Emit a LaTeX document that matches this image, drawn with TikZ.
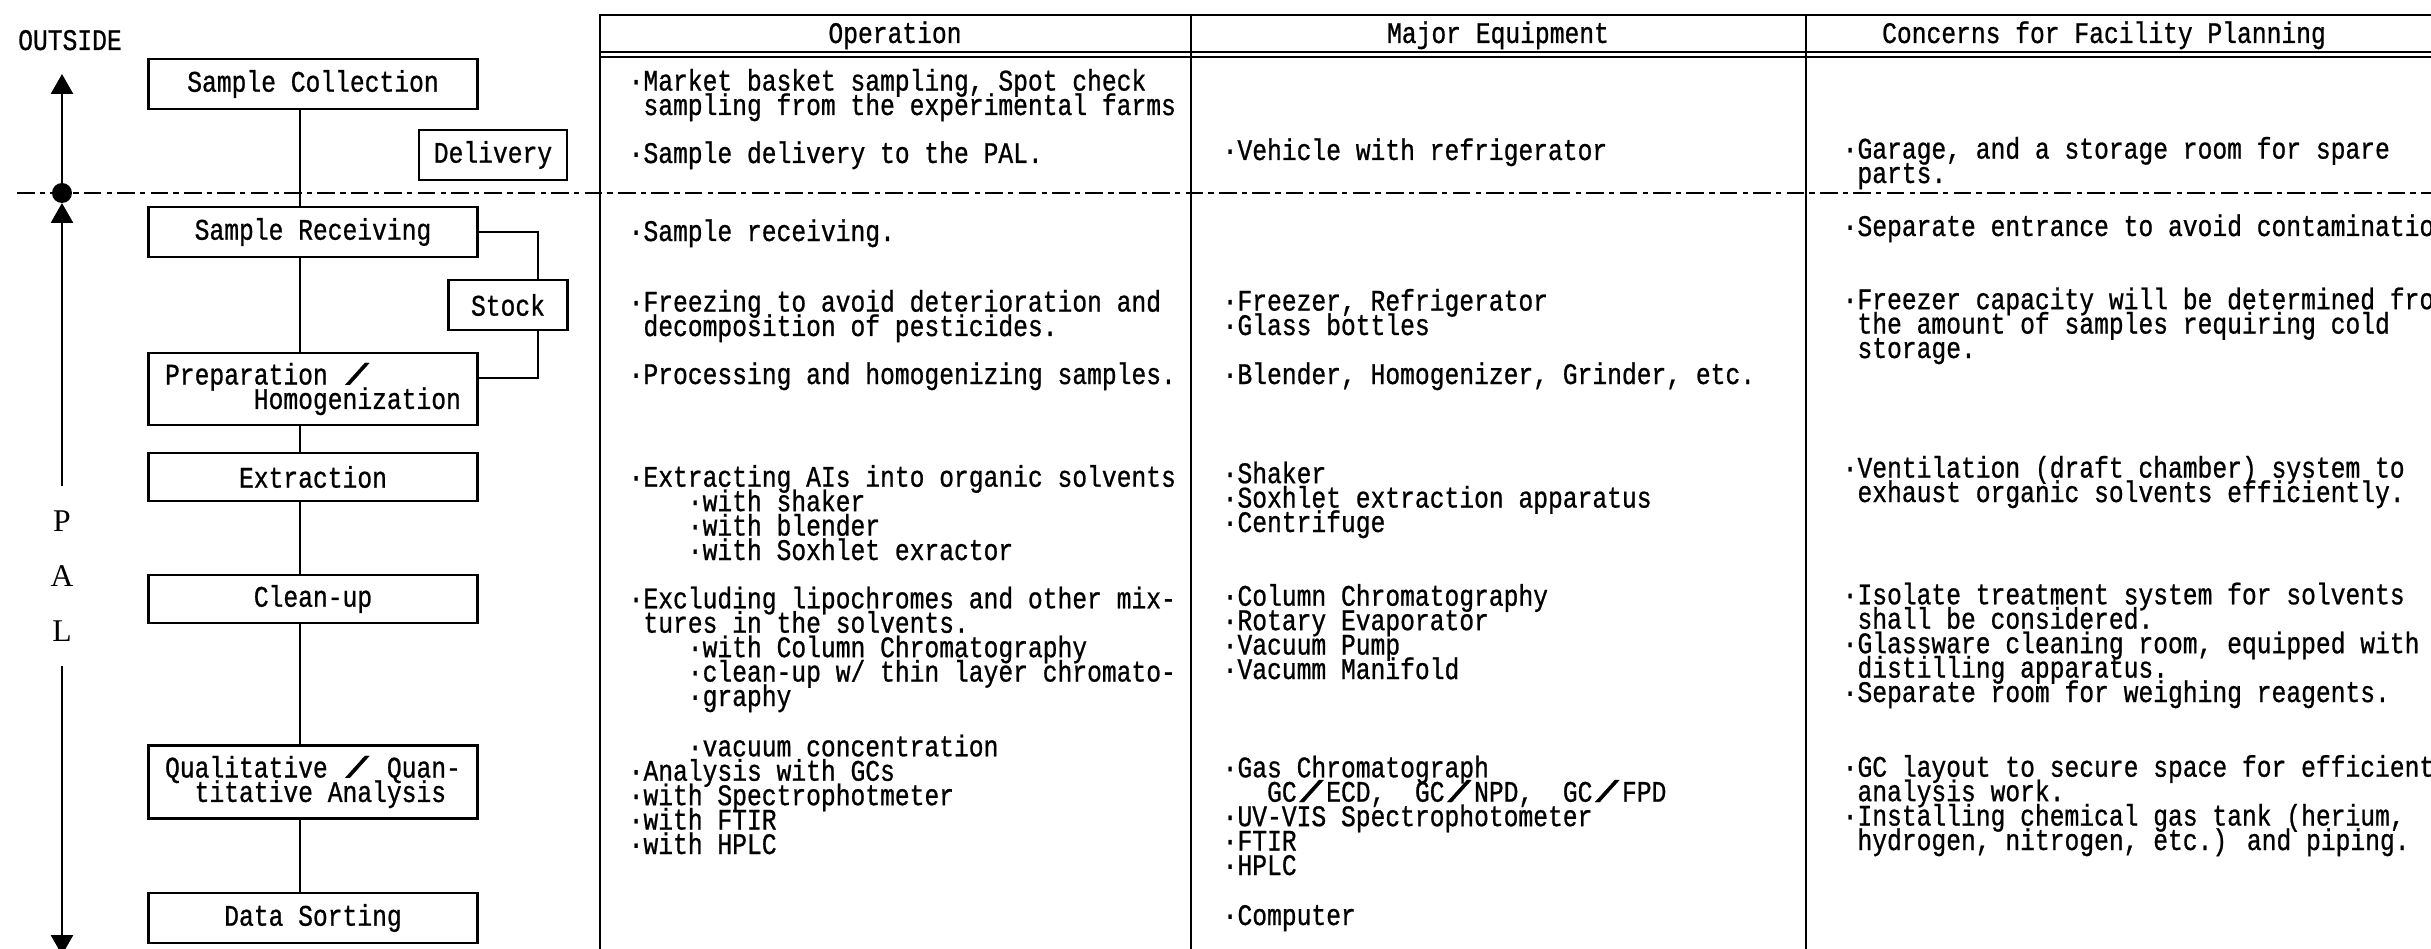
\documentclass[tikz,border=0pt]{standalone}
\usepackage{fontspec}
\setmainfont{Liberation Serif}
\newfontfamily\jfont[FakeStretch=0.825,FakeBold=0.8]{Liberation Mono}
\usetikzlibrary{arrows.meta}

\newcommand{\jtext}{\jfont\fontsize{8.5pt}{6.95pt}\selectfont\lineskiplimit=-\maxdimen}
\newlength\cw
\newcommand{\wsl}{\settowidth\cw{00}\makebox[\cw]{\scalebox{2}[1]{/}}}

\tikzset{
  stepbox/.style={draw, line width=0.6pt, minimum width=32.9mm,
    minimum height=5mm, inner sep=0pt, align=left, font=\jtext},
  cell/.style={anchor=base west, align=left, inner sep=0pt, font=\jtext},
  rule/.style={line width=0.6pt},
  flow/.style={line width=0.8pt},
  bigtip/.style={-{Triangle[length=2mm,width=2.2mm]}}
}

\begin{document}
\begin{tikzpicture}[x=0.1mm,y=-0.1mm]

\useasboundingbox (0,0) rectangle (2431,949);
\clip (0,0) rectangle (2431,949);

%%%%%%%%%%%%%%%%%%%%%%%%%%%%%%%%%%%%%%%%%%%%%%%%%%
% Table
%%%%%%%%%%%%%%%%%%%%%%%%%%%%%%%%%%%%%%%%%%%%%%%%%%

% Frame
\draw[rule] (600,960) -- (600,15) -- (2460,15);
\draw[rule] (600,52) -- (2460,52);
\draw[rule] (600,57) -- (2460,57);
\draw[rule] (1191,15) -- (1191,960);
\draw[rule] (1806,15) -- (1806,960);

% Heads
\node[font=\jtext, anchor=base] (hop) at (895,43) {Operation};
\node[font=\jtext, anchor=base] (heq) at (1498,43) {Major Equipment};
\node[font=\jtext, anchor=base] (hcn) at (2104,43) {Concerns for Facility Planning};

% Boundary
\draw[line width=0.4pt, dash pattern=on 5pt off 1.5pt on 1.5pt off 1.5pt]
(17,193) -- (2431,193);

% Operation (base = last line)
\node[cell] (op1) at (628,115)
{·Market basket sampling, Spot check\\
\hphantom{0}sampling from the experimental farms};
\node[cell] (op2) at (628,163) {·Sample delivery to the PAL.};
\node[cell] (op3) at (628,241) {·Sample receiving.};
\node[cell] (op4) at (628,336)
{·Freezing to avoid deterioration and\\
\hphantom{0}decomposition of pesticides.};
\node[cell] (op5) at (628,384) {·Processing and homogenizing samples.};
\node[cell] (op6) at (628,560)
{·Extracting AIs into organic solvents\\
\hphantom{0000}·with shaker\\
\hphantom{0000}·with blender\\
\hphantom{0000}·with Soxhlet exractor};
\node[cell] (op7) at (628,706)
{·Excluding lipochromes and other mix-\\
\hphantom{0}tures in the solvents.\\
\hphantom{0000}·with Column Chromatography\\
\hphantom{0000}·clean-up w/ thin layer chromato-\\
\hphantom{0000}·graphy};
\node[cell] (op8) at (628,854)
{\hphantom{0000}·vacuum concentration\\
·Analysis with GCs\\
·with Spectrophotmeter\\
·with FTIR\\
·with HPLC};

% Major equipment
\node[cell] (eq1) at (1222,160) {·Vehicle with refrigerator};
\node[cell] (eq2) at (1222,335)
{·Freezer, Refrigerator\\
·Glass bottles};
\node[cell] (eq3) at (1222,384) {·Blender, Homogenizer, Grinder, etc.};
\node[cell] (eq4) at (1222,532)
{·Shaker\\
·Soxhlet extraction apparatus\\
·Centrifuge};
\node[cell] (eq5) at (1222,679)
{·Column Chromatography\\
·Rotary Evaporator\\
·Vacuum Pump\\
·Vacumm Manifold};
\node[cell] (eq6) at (1222,875)
{·Gas Chromatograph\\
\hphantom{000}GC\wsl ECD,\hphantom{00}GC\wsl NPD,\hphantom{00}GC\wsl FPD\\
·UV-VIS Spectrophotometer\\
·FTIR\\
·HPLC};
\node[cell] (eq7) at (1222,925) {·Computer};

% Concerns
\node[cell] (cn1) at (1842,183)
{·Garage, and a storage room for spare\\
\hphantom{0}parts.};
\node[cell] (cn2) at (1842,236) {·Separate entrance to avoid contamination};
\node[cell] (cn3) at (1842,358)
{·Freezer capacity will be determined from\\
\hphantom{0}the amount of samples requiring cold\\
\hphantom{0}storage.};
\node[cell] (cn4) at (1842,502)
{·Ventilation (draft chamber) system to\\
\hphantom{0}exhaust organic solvents efficiently.};
\node[cell] (cn5) at (1842,702)
{·Isolate treatment system for solvents\\
\hphantom{0}shall be considered.\\
·Glassware cleaning room, equipped with\\
\hphantom{0}distilling apparatus.\\
·Separate room for weighing reagents.};
\node[cell] (cn6) at (1842,850)
{·GC layout to secure space for efficient\\
\hphantom{0}analysis work.\\
·Installing chemical gas tank (herium,\\
\hphantom{0}hydrogen, nitrogen, etc.) and piping.};

%%%%%%%%%%%%%%%%%%%%%%%%%%%%%%%%%%%%%%%%%%%%%%%%%%
% Flow
%%%%%%%%%%%%%%%%%%%%%%%%%%%%%%%%%%%%%%%%%%%%%%%%%%

% Outside / PAL
\node[font=\jtext, anchor=base] (outside) at (70,50) {OUTSIDE};
\coordinate (gate) at (62,193);
\coordinate (outtip) at (62,74);
\coordinate (intop) at (62,203);
\coordinate (inbot) at (62,955);
\node[font=\rmfamily\fontsize{9pt}{15.6pt}\selectfont, align=center,
inner sep=2.4mm] (pal) at (62,576) {P\\A\\L};

\draw[flow, bigtip] (gate) -- (outtip);
\draw[flow, bigtip] (pal.north) -- (intop);
\draw[flow, bigtip] (pal.south) -- (inbot);
\fill (gate) circle (1mm);

% Steps
\coordinate (spine) at (300,0);
\coordinate (loop) at (538,0);

\node[stepbox] (collect) at (313,84) {Sample Collection};
\node[stepbox, minimum width=14.8mm] (delivery) at (493,155) {Delivery};
\node[stepbox] (receive) at (313,232) {Sample Receiving};
\node[stepbox, minimum width=11.9mm] (stock) at (508,305) {Stock};
\node[stepbox, minimum height=7.2mm] (prep) at (313,389)
{Preparation \wsl\\\hphantom{000000}Homogenization};
\node[stepbox, minimum height=4.8mm] (extract) at (313,477) {Extraction};
\node[stepbox, minimum height=4.8mm] (cleanup) at (313,599) {Clean-up};
\node[stepbox, minimum height=7.3mm] (analysis) at (313,782)
{Qualitative \wsl{} Quan-\\\hphantom{00}titative Analysis};
\node[stepbox] (sorting) at (313,918) {Data Sorting};

% Connectors
\draw[flow] (collect.south -| spine) -- (receive.north -| spine);
\draw[flow] (receive.south -| spine) -- (prep.north -| spine);
\draw[flow] (prep.south -| spine) -- (extract.north -| spine);
\draw[flow] (extract.south -| spine) -- (cleanup.north -| spine);
\draw[flow] (cleanup.south -| spine) -- (analysis.north -| spine);
\draw[flow] (analysis.south -| spine) -- (sorting.north -| spine);

\draw[rule] (receive.east) -| (stock.north -| loop);
\draw[rule] (stock.south -| loop) |- ([yshift=1.1mm]prep.east);

\end{tikzpicture}
\end{document}
